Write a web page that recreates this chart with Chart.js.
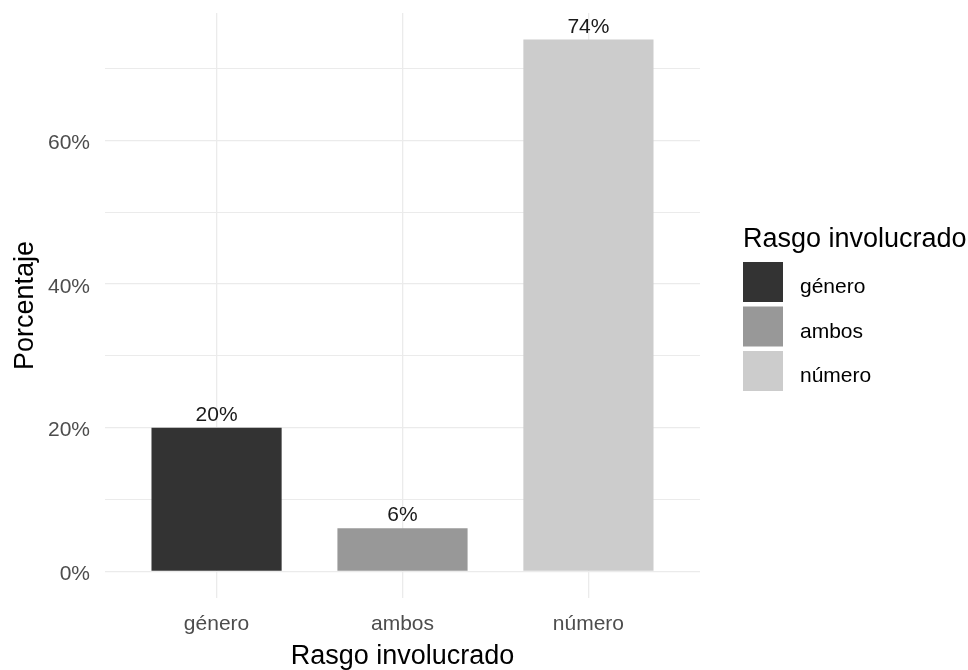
<!DOCTYPE html>
<html>
<head>
<meta charset="utf-8">
<title>Rasgo involucrado</title>
<script src="https://cdn.jsdelivr.net/npm/chart.js@4/dist/chart.umd.min.js"></script>
<style>
  html, body { margin: 0; padding: 0; background: #ffffff; }
  #wrap { width: 968px; height: 670px; }
</style>
</head>
<body>
<div id="wrap"><canvas id="chart" width="968" height="670"></canvas></div>
<script>
// Share of cases per feature involved
const categories = ["género", "ambos", "número"];
const percentages = [20, 6, 74];
const fills = ["#333333", "#989898", "#cccccc"];
const yTicks = [0, 10, 20, 30, 40, 50, 60, 70];
const axisTitleX = "Rasgo involucrado";
const axisTitleY = "Porcentaje";
const legendTitle = "Rasgo involucrado";

const FONT = "'Liberation Sans', Arial, sans-serif";
Chart.defaults.font.family = FONT;

// Percent text on top of each bar
const barLabels = {
  id: "barLabels",
  afterDatasetsDraw(chart) {
    const ctx = chart.ctx;
    const meta = chart.getDatasetMeta(0);
    ctx.save();
    ctx.font = "21px " + FONT;
    ctx.fillStyle = "#1a1a1a";
    ctx.textAlign = "center";
    ctx.textBaseline = "alphabetic";
    meta.data.forEach((bar, i) => {
      ctx.fillText(percentages[i] + "%", bar.x, bar.y - 7);
    });
    ctx.restore();
  }
};

// Fill legend on the right side
const fillLegend = {
  id: "fillLegend",
  afterDraw(chart) {
    const ctx = chart.ctx;
    const left = chart.chartArea.right + 43;
    ctx.save();
    ctx.fillStyle = "#000000";
    ctx.textAlign = "left";
    ctx.textBaseline = "alphabetic";
    ctx.font = "27px " + FONT;
    ctx.fillText(legendTitle, left, 246.5);
    ctx.font = "21px " + FONT;
    categories.forEach((name, i) => {
      const top = 262 + i * 44.5;
      ctx.fillStyle = fills[i];
      ctx.fillRect(left, top, 40, 40);
      ctx.fillStyle = "#000000";
      ctx.fillText(name, left + 57, top + 31);
    });
    ctx.restore();
  }
};

new Chart(document.getElementById("chart"), {
  type: "bar",
  data: {
    datasets: [{
      label: legendTitle,
      data: percentages.map((v, i) => ({ x: i + 1, y: v })),
      backgroundColor: fills,
      borderWidth: 0,
      categoryPercentage: 0.7,
      barPercentage: 1
    }]
  },
  options: {
    responsive: false,
    animation: false,
    layout: { padding: { top: 13, right: 268, left: 0, bottom: 0 } },
    plugins: {
      legend: { display: false },
      tooltip: { enabled: false }
    },
    scales: {
      x: {
        type: "linear",
        offset: false,
        min: 0.4,
        max: 3.6,
        afterBuildTicks(scale) {
          scale.ticks = categories.map((c, i) => ({ value: i + 1 }));
        },
        afterFit(scale) {
          scale.height = 72;
          scale.paddingLeft = 0;
          scale.paddingRight = 0;
        },
        grid: { color: "#ebebeb", lineWidth: 1.3, drawTicks: false, offset: false },
        border: { display: false },
        ticks: {
          color: "#4d4d4d",
          font: { size: 21 },
          padding: 14,
          callback: (v) => categories[Math.round(v) - 1]
        },
        title: {
          display: true,
          text: axisTitleX,
          color: "#000000",
          font: { size: 27 },
          padding: { top: 0, bottom: -3 }
        }
      },
      y: {
        min: -3.7,
        max: 77.7,
        afterBuildTicks(scale) {
          scale.ticks = yTicks.map(v => ({ value: v }));
        },
        afterFit(scale) {
          scale.width = 105;
          scale.paddingTop = 0;
          scale.paddingBottom = 0;
        },
        grid: {
          color: "#ebebeb",
          lineWidth: (c) => (c.tick && c.tick.value % 20 === 0 ? 1.3 : 1),
          drawTicks: false
        },
        border: { display: false },
        ticks: {
          color: "#4d4d4d",
          font: { size: 21 },
          padding: 15,
          labelOffset: 3,
          callback: (v) => (v % 20 === 0 ? v + "%" : "")
        },
        title: {
          display: true,
          text: axisTitleY,
          color: "#000000",
          font: { size: 27 },
          padding: { top: 9, bottom: 0 }
        }
      }
    }
  },
  plugins: [barLabels, fillLegend]
});
</script>
</body>
</html>
